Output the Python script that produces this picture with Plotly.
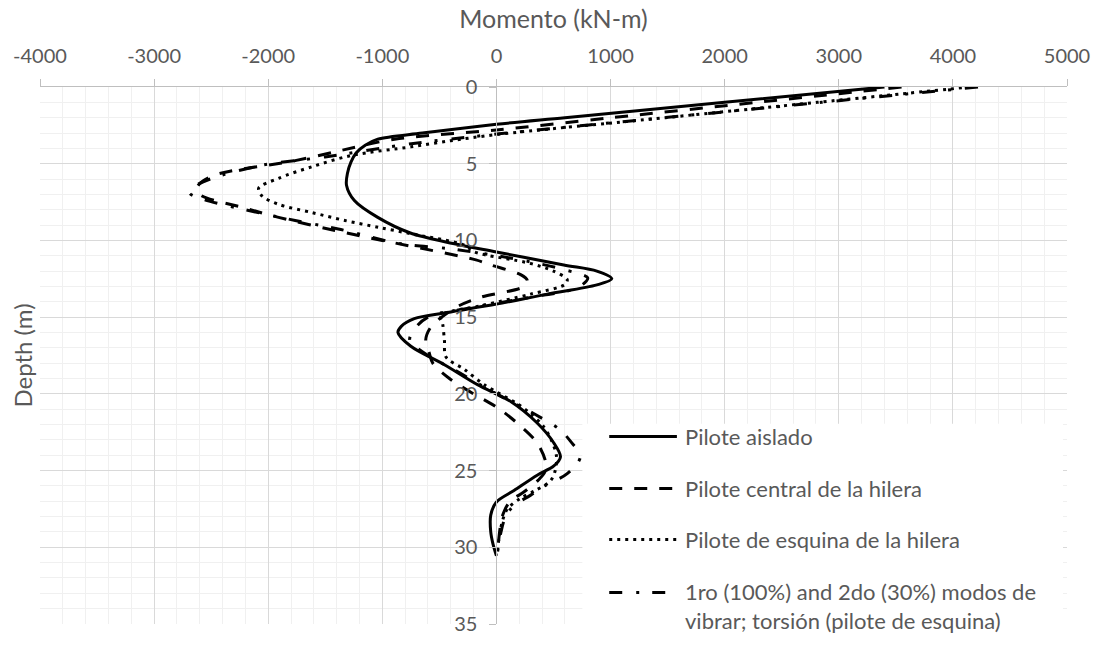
import plotly.graph_objects as go

# Bending moment envelopes (kN-m) versus depth (m) for the pile cases
depth_aislado = [0, 1, 2, 2.43, 3.0, 3.4, 3.8, 4.3, 4.9, 5.6, 6.4, 7.4, 8.5, 9.5, 10.2,
                 10.75, 11.6, 12.0, 12.5, 12.9, 13.5, 14.15, 14.7, 15.1, 15.6, 16.0, 16.9,
                 18.1, 19.4, 20.5, 21.9, 23.2, 24.1, 24.7, 25.3, 26.3, 27.05, 27.9, 29.0,
                 29.8, 30.56]
mom_aislado = [3400, 2000, 600, 0, -650, -1040, -1150, -1230, -1275, -1305, -1314, -1245,
               -1040, -760, -380, 0, 590, 880, 1011, 880, 445, 0, -430, -720, -834, -863,
               -750, -456, -166, 125, 357, 503, 561, 503, 357, 154, 0, -50, -50, -30, 0]

depth_central = [0, 1, 2, 2.8, 3.4, 4.1, 4.8, 5.8, 6.5, 7.0, 7.9, 8.5, 9.35, 10.0, 10.42,
                 11.27, 11.6, 12.23, 12.6, 13.0, 13.7, 14.3, 15.0, 15.7, 16.5, 17.3, 18.0,
                 19.0, 19.9, 20.9, 22.1, 23.2, 24.4, 25.0, 25.6, 26.4, 27.0, 27.8, 28.6,
                 29.5, 30.3]
mom_central = [3550, 2280, 1010, 0, -892, -1340, -1764, -2491, -2620, -2600, -2200, -1909,
               -1415, -1000, -720, -180, -50, 212, 270, 241, -137, -340, -480, -580, -620,
               -590, -558, -412, -224, 9, 212, 357, 430, 430, 370, 240, 120, 60, 35, 20, 10]

depth_esquina = [0, 1, 2, 3.1, 3.5, 3.9, 4.46, 5.2, 5.95, 6.6, 7.1, 7.65, 8.18, 8.7, 9.14,
                 9.57, 10.3, 10.74, 11.5, 12.0, 12.55, 12.87, 13.5, 14.26, 14.9, 15.5, 16.5,
                 17.6, 18.4, 19.4, 20.65, 21.3, 22.1, 23.0, 24.0, 25.0, 25.7, 26.3, 26.8,
                 27.5, 28.3, 29.4, 30.2]
mom_esquina = [4150, 2810, 1480, 0, -400, -747, -1270, -1619, -1909, -2084, -2055, -1909,
               -1619, -1328, -1037, -747, -282, -195, 299, 500, 620, 600, 299, -137, -486,
               -470, -456, -442, -282, -107, 183, 300, 410, 480, 525, 515, 470, 340, 212, 96,
               52, 23, 9]

depth_torsion = [0, 1, 2, 3.07, 3.7, 4.56, 5.1, 5.95, 6.5, 6.9, 7.3, 7.76, 8.7, 9.25, 10.2,
                 10.55, 11.27, 11.9, 12.45, 13.1, 13.7, 14.47, 14.9, 15.6, 16.5, 17.4, 18.6,
                 20.0, 21.3, 22.3, 23.1, 24.1, 25.2, 26.0, 26.6, 27.3, 28.0, 29.0, 30.3]
mom_torsion = [4220, 2850, 1470, 0, -747, -1502, -2055, -2491, -2650, -2690, -2580, -2345,
               -1764, -1386, -850, -400, 212, 590, 800, 706, 299, -282, -573, -700, -760,
               -620, -330, 0, 330, 550, 650, 735, 620, 420, 300, 150, 80, 40, 10]

series_names = [
    "Pilote aislado",
    "Pilote central de la hilera",
    "Pilote de esquina de la hilera",
    "1ro (100%) and 2do (30%) modos de<br>vibrar; torsión (pilote de esquina)",
]

x_ticks = [-4000, -3000, -2000, -1000, 0, 1000, 2000, 3000, 4000, 5000]
y_ticks = [0, 5, 10, 15, 20, 25, 30, 35]

W, H = 1102, 647
L, R, T, B = 40, 30, 87, 13
PW, PH = W - L - R, H - T - B

TXT = "#595959"
FONT = "Lato, Carlito, Calibri, sans-serif"

dashes = ["solid", "13px,12px", "3px,5px", "13px,14px,3px,13px"]
data = [(mom_aislado, depth_aislado), (mom_central, depth_central),
        (mom_esquina, depth_esquina), (mom_torsion, depth_torsion)]

fig = go.Figure()
for (m, d), name, dash in zip(data, series_names, dashes):
    fig.add_trace(go.Scatter(
        x=m, y=d, mode="lines", name=name, showlegend=False,
        line=dict(color="black", width=3, dash=dash, shape="spline", smoothing=0.9),
    ))


def px_x(p):
    return (p - L) / PW


def px_y(p):
    return 1 - (p - T) / PH


shapes = []
annotations = []

# legend box
shapes.append(dict(type="rect", xref="paper", yref="paper",
                   x0=px_x(585), x1=px_x(1068), y0=px_y(430), y1=px_y(641),
                   fillcolor="white", line=dict(width=0), layer="above"))
legend_rows = [443, 496, 548, 602]
for row, name, dash in zip(legend_rows, series_names, dashes):
    shapes.append(dict(type="line", xref="paper", yref="paper",
                       x0=px_x(612), x1=px_x(680), y0=px_y(row), y1=px_y(row),
                       line=dict(color="black", width=3, dash=dash), layer="above"))
    n_lines = name.count("<br>") + 1
    annotations.append(dict(
        xref="paper", yref="paper", x=px_x(686), y=px_y(row + (n_lines - 1) * 13.5),
        xanchor="left", yanchor="middle", align="left", showarrow=False,
        text=name, font=dict(family=FONT, size=22, color=TXT),
    ))

# y-axis title
annotations.append(dict(xref="paper", yref="paper", x=px_x(22), y=0.5,
                        xanchor="center", yanchor="middle", textangle=-90,
                        showarrow=False, text="Depth (m)",
                        font=dict(family=FONT, size=24, color=TXT)))

fig.update_layout(
    width=W, height=H,
    margin=dict(l=L, r=R, t=T, b=B, pad=0),
    paper_bgcolor="white", plot_bgcolor="white",
    font=dict(family=FONT, size=20, color=TXT),
    shapes=shapes, annotations=annotations,
    xaxis=dict(
        side="top", range=[-4000, 5000], tickvals=x_ticks,
        ticktext=[str(v) for v in x_ticks],
        showgrid=True, gridcolor="#d9d9d9", gridwidth=1,
        minor=dict(dtick=200, showgrid=True, gridcolor="#f0f0f0", gridwidth=1),
        zeroline=False, showline=True, linecolor="#bfbfbf", linewidth=1,
        ticks="outside", ticklen=7, tickcolor="#bfbfbf",
        tickfont=dict(family=FONT, size=20, color=TXT),
        ticklabelstandoff=8,
        title=dict(text="Momento (kN-m)", font=dict(family=FONT, size=25, color=TXT),
                   standoff=7),
    ),
    yaxis=dict(
        range=[35, 0], tickvals=y_ticks, ticktext=[str(v) for v in y_ticks],
        anchor="free", position=4000 / 9000,
        showgrid=True, gridcolor="#d9d9d9", gridwidth=1,
        minor=dict(dtick=1, showgrid=True, gridcolor="#f0f0f0", gridwidth=1),
        zeroline=False, showline=True, linecolor="#bfbfbf", linewidth=1,
        ticks="outside", ticklen=7, tickcolor="#bfbfbf",
        tickfont=dict(family=FONT, size=20, color=TXT),
        ticklabelstandoff=8,
    ),
)

fig.write_html("out.html")
